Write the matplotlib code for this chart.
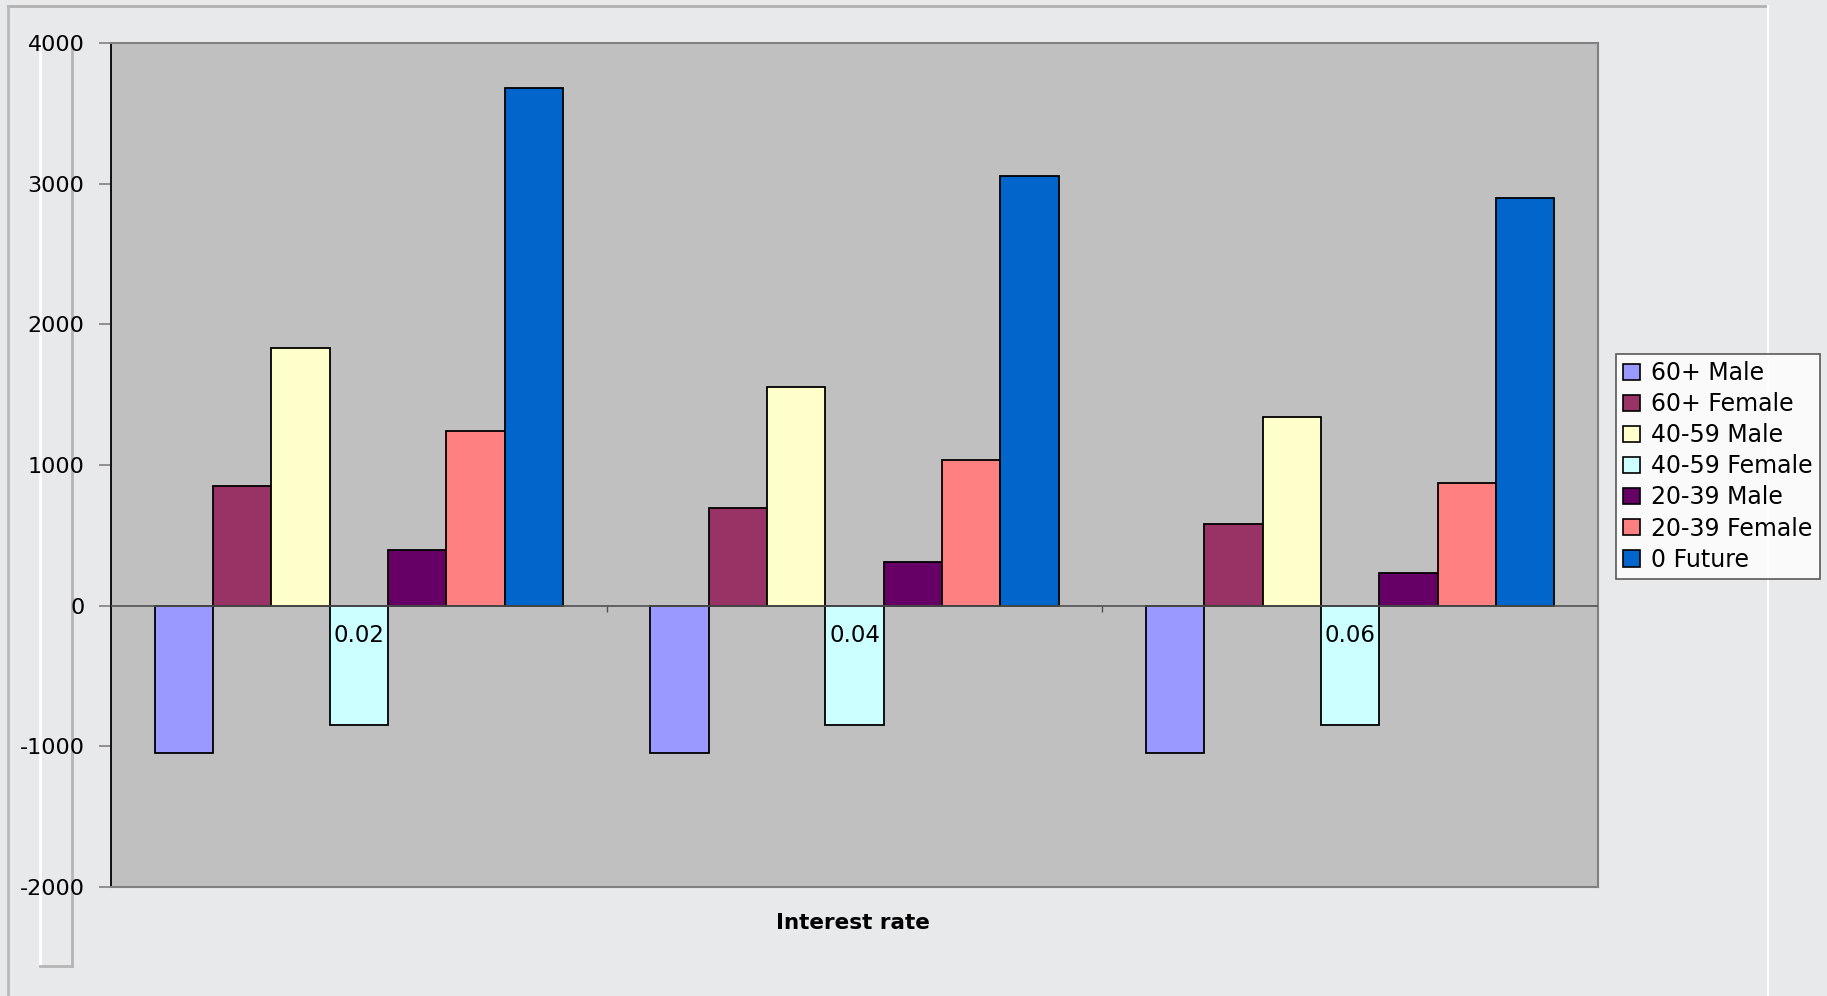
import matplotlib
matplotlib.use("Agg")
import matplotlib.pyplot as plt
from matplotlib.patches import Patch
from matplotlib.lines import Line2D
import numpy as np

plt.rcParams['font.family'] = ['DejaVu Sans']

categories = ['0.02', '0.04', '0.06']
series_names = ['60+ Male', '60+ Female', '40-59 Male', '40-59 Female',
                '20-39 Male', '20-39 Female', '0 Future']
male_60 = [-1050, -1050, -1050]
female_60 = [853, 696, 580]
male_40 = [1831, 1558, 1342]
female_40 = [-845, -845, -845]
male_20 = [398, 307, 232]
female_20 = [1243, 1036, 870]
future_0 = [3679, 3057, 2900]
series_values = [male_60, female_60, male_40, female_40, male_20, female_20, future_0]
colors = ['#9999FF', '#993366', '#FFFFCC', '#CCFFFF', '#660066', '#FF8080', '#0066CC']
y_ticks = [-2000, -1000, 0, 1000, 2000, 3000, 4000]

W, H = 1827, 996
fig = plt.figure(figsize=(W / 100, H / 100), dpi=100)
fig.patch.set_facecolor('#e8e9eb')

# slide decorations (behind everything)
def fline(x0, y0, x1, y1, color, lw):
    fig.add_artist(Line2D([x0 / W, x1 / W], [1 - y0 / H, 1 - y1 / H],
                          color=color, lw=lw, transform=fig.transFigure,
                          zorder=-5))

fline(8, 6, 1766, 6, '#b0b0b0', 2)
fline(8, 6, 8, 996, '#b8b8b8', 2)
fline(1768, 6, 1768, 996, '#ffffff', 1.5)
fline(40, 40, 40, 966, '#ffffff', 2)
fline(72, 40, 72, 966, '#b5b5b5', 2)
fline(40, 966, 72, 966, '#b5b5b5', 2)

ax = fig.add_axes([111 / W, 1 - 887 / H, (1598 - 111) / W, (887 - 43) / H])
ax.set_facecolor('#C0C0C0')

n = len(series_names)
x = np.arange(len(categories))
bw = 1.0 / (n + 1.5)
for i, (name, vals, c) in enumerate(zip(series_names, series_values, colors)):
    offs = (i - (n - 1) / 2) * bw
    ax.bar(x + offs, vals, width=bw, color=c, edgecolor='black', linewidth=1.3,
           label=name, zorder=3)

ax.set_xlim(-0.5, len(categories) - 0.5)
ax.set_ylim(y_ticks[0], y_ticks[-1])
ax.set_yticks(y_ticks)
ax.set_yticklabels([str(t) for t in y_ticks], fontsize=16)
ax.tick_params(axis='y', direction='out', length=9, width=1.2, color='#808080', pad=10)
ax.set_xticks([])

for s in ['top', 'right', 'bottom']:
    ax.spines[s].set_color('#808080')
    ax.spines[s].set_linewidth(1.5)
ax.spines['left'].set_color('black')
ax.spines['left'].set_linewidth(1.3)

# zero axis line with category separators
ax.axhline(0, color='#505050', lw=1.2, zorder=4)
ax.vlines(x[:-1] + 0.5, -45, 0, color='#505050', lw=1.0, zorder=4)
for xi, lab in zip(x, categories):
    ax.annotate(lab, (xi, 0), xytext=(0, -26.5), textcoords='offset points',
                ha='center', va='baseline', fontsize=16.5, zorder=5)

fig.text(853 / W, 1 - 923 / H, 'Interest rate', ha='center', va='center',
         fontsize=15.5, fontweight='bold')

handles = [Patch(facecolor=c, edgecolor='black', linewidth=1.2) for c in colors]
leg = fig.legend(handles, series_names, loc='upper left',
                 bbox_to_anchor=(1616 / W, 1 - 354 / H), fontsize=17,
                 frameon=True, fancybox=False, edgecolor='#333333',
                 handlelength=0.7, handleheight=0.7, handletextpad=0.5,
                 labelspacing=0.30, borderpad=0.3, borderaxespad=0)
leg.get_frame().set_linewidth(1.2)
leg.get_frame().set_facecolor('white')

fig.savefig('out.png', dpi=100, facecolor=fig.get_facecolor())
